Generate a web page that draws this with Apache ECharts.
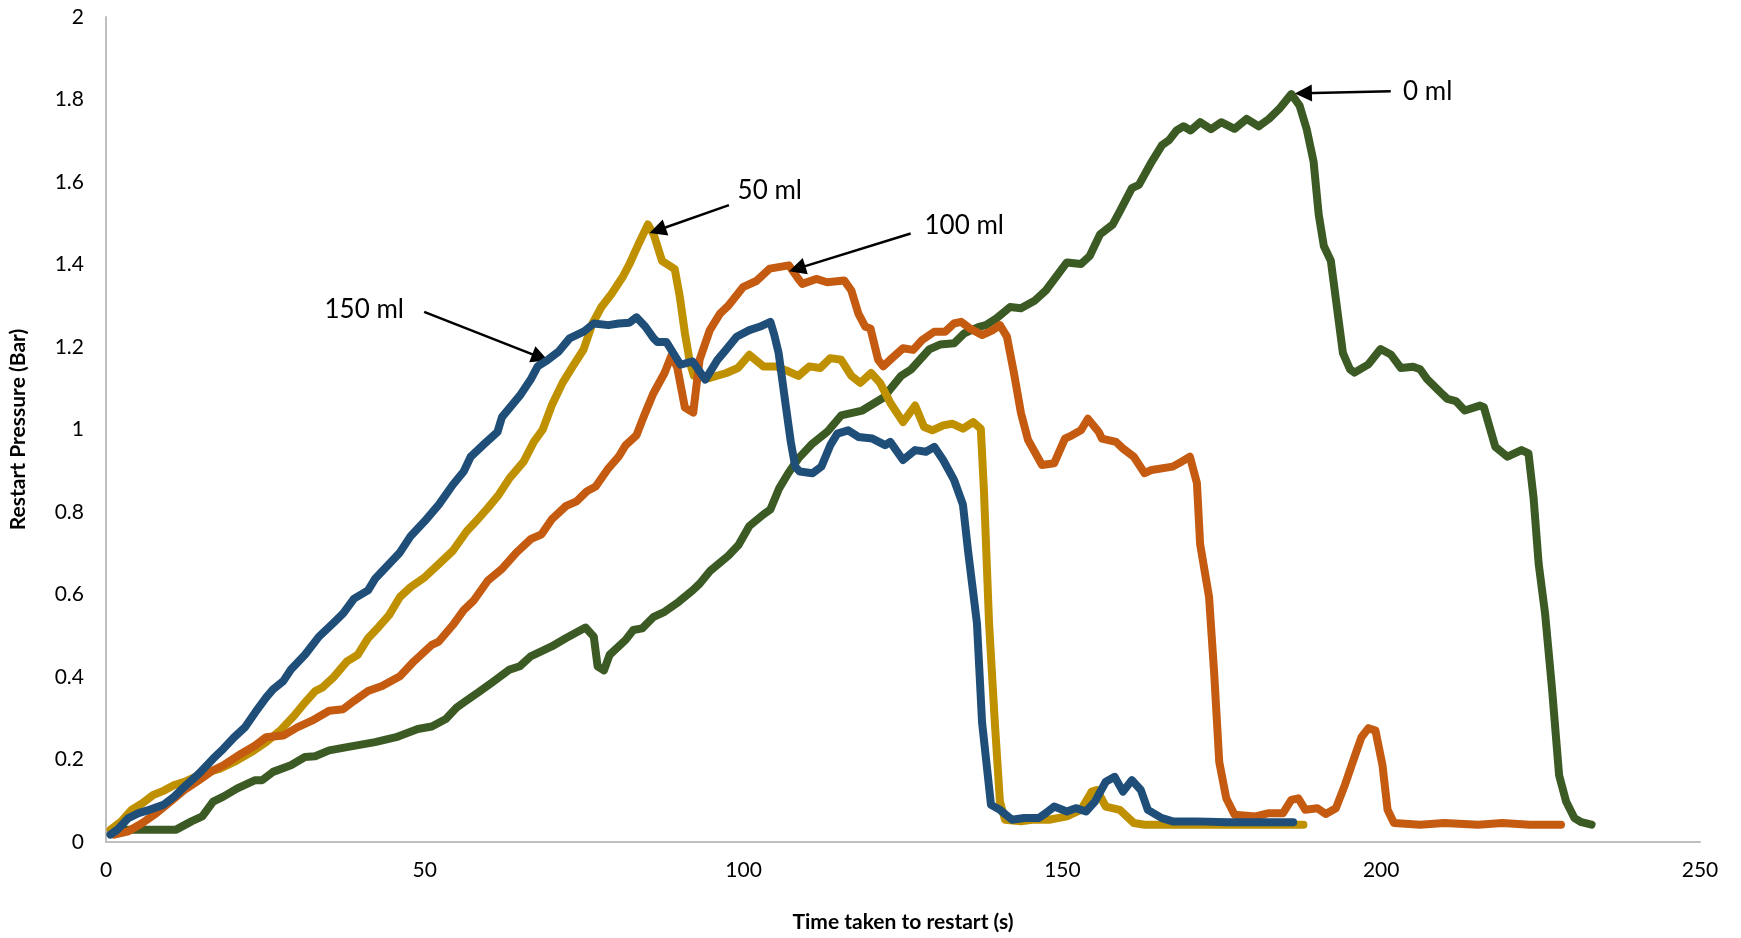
<!DOCTYPE html>
<html>
<head>
<meta charset="utf-8">
<script src="https://cdn.jsdelivr.net/npm/echarts@6/dist/echarts.min.js"></script>
<style>
html,body{margin:0;padding:0;background:#fff;overflow:hidden;}
#chart{width:1741px;height:938px;}
</style>
</head>
<body>
<div id="chart"></div>
<script>
// ---- Data (time s, restart pressure bar) ----
var ml0 = [[1,0.025],[2,0.03],[4,0.03],[7,0.03],[11,0.03],[13.4,0.05],[15.1,0.062],[16.8,0.098],[18.4,0.11],[20.6,0.13],[23.4,0.15],[24.5,0.15],[26.2,0.17],[29,0.186],[31.2,0.206],[32.8,0.208],[35,0.222],[37.8,0.23],[42.2,0.242],[45.5,0.254],[48.9,0.274],[51.1,0.28],[53.3,0.298],[55,0.326],[56.1,0.338],[58.3,0.362],[60.5,0.386],[63.3,0.418],[64.9,0.426],[66.6,0.45],[69.9,0.474],[72.1,0.494],[75.2,0.52],[76.5,0.498],[77.1,0.426],[78.1,0.416],[79,0.454],[81.5,0.49],[82.7,0.514],[84.1,0.518],[85.9,0.546],[87.6,0.558],[89.8,0.582],[92,0.61],[93.1,0.626],[94.8,0.658],[97.6,0.694],[99.2,0.72],[100.9,0.766],[103.1,0.794],[104.2,0.806],[105.6,0.858],[107,0.894],[108.6,0.93],[110.8,0.966],[113.1,0.994],[115.3,1.034],[118.6,1.046],[121.9,1.077],[124.7,1.13],[126.3,1.146],[129.1,1.194],[130.8,1.206],[133,1.209],[134.6,1.233],[136.9,1.249],[138,1.253],[139.6,1.269],[141.8,1.297],[143.5,1.294],[145.7,1.313],[147.4,1.337],[150.7,1.405],[152.9,1.401],[154.3,1.421],[155.9,1.473],[157.9,1.497],[159,1.529],[160.9,1.585],[162,1.593],[164,1.649],[165.6,1.689],[166.7,1.701],[167.9,1.725],[169,1.735],[170.1,1.725],[171.6,1.745],[173.3,1.728],[174.9,1.745],[177,1.729],[178.9,1.753],[180.8,1.735],[182.4,1.753],[184,1.777],[185.9,1.813],[187.2,1.785],[188.3,1.729],[189.4,1.649],[190.2,1.521],[191,1.445],[192.1,1.409],[194,1.185],[195.1,1.146],[195.8,1.138],[198,1.158],[199.9,1.195],[201.5,1.182],[203.1,1.149],[205,1.152],[206.1,1.146],[207.2,1.122],[209.3,1.09],[210.4,1.074],[211.7,1.069],[213.1,1.046],[215.5,1.058],[216.1,1.054],[217.9,0.958],[219.8,0.934],[222,0.95],[223.1,0.942],[223.9,0.834],[224.7,0.674],[225.7,0.554],[226.8,0.37],[227.9,0.162],[229,0.098],[230.3,0.058],[231.4,0.048],[233,0.042]];

var ml50 = [[0.7,0.03],[2.4,0.05],[4,0.078],[5.7,0.094],[7.4,0.114],[9,0.124],[10.7,0.138],[12.3,0.146],[14,0.158],[15.7,0.168],[17.9,0.178],[20.1,0.194],[22.8,0.218],[25.1,0.242],[27.3,0.27],[29.5,0.306],[31.2,0.338],[32.8,0.366],[33.9,0.374],[35.6,0.398],[37.8,0.438],[39.5,0.454],[41.1,0.494],[42.8,0.522],[44.4,0.55],[46.1,0.594],[47.8,0.618],[50,0.642],[52.2,0.674],[54.4,0.706],[56.6,0.754],[58.3,0.782],[59.9,0.81],[61.6,0.842],[63.3,0.882],[65.5,0.922],[67.1,0.97],[68.5,1.0],[69.9,1.058],[71.6,1.113],[73.2,1.153],[74.9,1.194],[76.3,1.257],[77.7,1.297],[79.3,1.329],[81,1.369],[82.1,1.401],[83.5,1.449],[85,1.497],[85.9,1.473],[87.2,1.409],[89.2,1.389],[90,1.321],[90.8,1.233],[91.6,1.161],[92.2,1.13],[94.7,1.125],[97.3,1.137],[99.1,1.149],[100.9,1.181],[103.1,1.153],[105,1.153],[107,1.141],[108.6,1.13],[110.3,1.153],[112,1.149],[113.6,1.173],[115.3,1.169],[116.9,1.13],[118.3,1.113],[120,1.137],[121.4,1.113],[123,1.065],[125,1.018],[126.9,1.058],[128.3,1.006],[129.6,0.998],[131.3,1.01],[132.7,1.014],[134.4,1.002],[136,1.018],[137.2,1.002],[137.7,0.85],[138.5,0.53],[139.4,0.29],[140.2,0.098],[141,0.054],[143.5,0.05],[145.2,0.054],[147.9,0.054],[150.7,0.062],[152.9,0.078],[154.6,0.122],[155.4,0.126],[156.8,0.086],[159,0.078],[161.2,0.046],[162.9,0.042],[167.3,0.042],[171,0.042],[175,0.042],[180,0.042],[184,0.042],[187.8,0.042]];

var ml100 = [[1.3,0.018],[3.5,0.026],[5.7,0.046],[7.9,0.07],[10.1,0.098],[12.3,0.126],[14.6,0.15],[16.8,0.174],[18.4,0.186],[21.2,0.214],[23.4,0.234],[25.1,0.254],[27.8,0.258],[30,0.278],[32.3,0.294],[35,0.318],[37.2,0.322],[38.9,0.342],[41.1,0.366],[43.3,0.378],[46.1,0.402],[48.3,0.438],[51.1,0.478],[52.2,0.486],[54.4,0.526],[56.1,0.562],[57.7,0.586],[59.9,0.634],[62.1,0.662],[64.4,0.702],[66.6,0.734],[68.3,0.746],[69.9,0.782],[72.1,0.814],[73.8,0.826],[75.4,0.85],[76.8,0.862],[78.8,0.906],[80.4,0.934],[81.5,0.962],[83.2,0.986],[84.3,1.03],[85.8,1.086],[87.6,1.137],[88.7,1.18],[89.6,1.15],[90.8,1.053],[92.1,1.041],[93.1,1.169],[94.7,1.241],[96.3,1.281],[97.6,1.3],[99.9,1.345],[102,1.36],[104.1,1.39],[107.1,1.398],[108.6,1.365],[109.2,1.353],[111.4,1.365],[113.1,1.357],[115.8,1.361],[116.9,1.337],[118,1.281],[119.1,1.249],[119.9,1.245],[121.1,1.169],[121.9,1.153],[123,1.169],[125,1.197],[126.6,1.193],[128,1.217],[129.9,1.237],[131.6,1.237],[133,1.257],[134.1,1.261],[135.5,1.245],[137.4,1.229],[139.1,1.241],[140.2,1.253],[141.3,1.225],[142.4,1.137],[143.5,1.04],[144.6,0.975],[146.8,0.914],[148.7,0.918],[150.4,0.978],[151.5,0.986],[152.9,0.998],[154,1.026],[155.7,0.994],[156.2,0.978],[158.4,0.97],[159.5,0.954],[161.2,0.934],[162.9,0.894],[164,0.902],[167.3,0.91],[168.7,0.922],[170,0.934],[171.1,0.87],[171.6,0.722],[173,0.594],[173.8,0.41],[174.6,0.194],[175.7,0.106],[177,0.066],[180.3,0.062],[182.4,0.07],[184.6,0.07],[185.9,0.102],[187,0.106],[188.1,0.078],[190,0.082],[191.3,0.068],[192.9,0.082],[194.3,0.138],[195.9,0.21],[196.9,0.254],[198,0.276],[199.1,0.27],[200.2,0.186],[201,0.078],[202,0.046],[206.1,0.042],[209.9,0.046],[215.2,0.042],[219,0.046],[223.3,0.042],[228.2,0.042]];

var ml150 = [[0.7,0.018],[1.8,0.03],[3.5,0.058],[5.1,0.07],[6.8,0.078],[9,0.09],[10.7,0.11],[12.3,0.134],[14.6,0.166],[16.8,0.202],[18.4,0.226],[20.1,0.254],[21.8,0.278],[23.4,0.314],[25.1,0.35],[26.2,0.37],[27.8,0.39],[29,0.418],[31.2,0.454],[33.4,0.498],[35.6,0.53],[37.2,0.554],[38.9,0.59],[41.1,0.61],[42.2,0.638],[44.4,0.674],[46.1,0.702],[47.8,0.742],[50,0.778],[52.2,0.818],[54.4,0.866],[56.1,0.898],[57.2,0.934],[59.4,0.966],[61.4,0.994],[62.1,1.03],[64.9,1.082],[66.6,1.121],[67.7,1.153],[69.3,1.169],[71,1.189],[72.7,1.221],[74.9,1.237],[76.5,1.257],[78.8,1.253],[80.4,1.257],[82.1,1.259],[83.2,1.272],[84.6,1.249],[85.9,1.221],[86.5,1.212],[87.9,1.212],[89.3,1.177],[90.1,1.157],[92,1.165],[94,1.121],[95.9,1.169],[97,1.189],[98.9,1.225],[100.9,1.241],[102.5,1.249],[104.2,1.261],[104.8,1.23],[105.5,1.185],[106.4,1.082],[107.4,0.97],[108.1,0.91],[108.8,0.898],[110.8,0.894],[112.2,0.91],[113.6,0.962],[114.7,0.99],[116.4,0.998],[118,0.982],[120.2,0.978],[122.2,0.962],[123,0.97],[125,0.926],[126.9,0.95],[128.6,0.946],[129.9,0.958],[131.3,0.926],[133,0.878],[134.4,0.818],[135.2,0.706],[136.6,0.53],[137.4,0.29],[138.8,0.09],[140.2,0.078],[142.1,0.054],[144,0.058],[146.3,0.058],[147.4,0.07],[148.7,0.086],[150.7,0.074],[152.1,0.082],[153.7,0.074],[155.1,0.098],[156.8,0.146],[158.2,0.158],[159.5,0.122],[160.9,0.15],[162.3,0.126],[163.4,0.078],[165.6,0.058],[167.3,0.05],[171,0.05],[176,0.048],[181,0.048],[186.2,0.048]];

// annotation labels: text position, arrow start and end (data units)
var labelNames = ['0 ml', '50 ml', '100 ml', '150 ml'];
var labelPos = [[207.3, 1.818], [104.1, 1.578], [134.6, 1.494], [40.5, 1.290]];
var arrowFrom = [[201.5, 1.820], [97.7, 1.544], [126.2, 1.475], [49.9, 1.285]];
var arrowTo = [[187.8, 1.815], [86.5, 1.483], [108.4, 1.390], [68.1, 1.175]];

var xTicks = {min: 0, max: 250, step: 50};
var yTicks = {min: 0, max: 2, step: 0.2};

var colors = ['#3B5A24', '#BF9000', '#C55A11', '#1F4E79'];
var seriesData = [ml0, ml50, ml100, ml150];
var FONT = 'Lato';

var chart = echarts.init(document.getElementById('chart'), null, {renderer: 'canvas'});

var series = seriesData.map(function (d, i) {
  return {
    type: 'line',
    data: d,
    showSymbol: false,
    symbol: 'none',
    smooth: false,
    clip: false,
    z: 2 + i,
    lineStyle: {color: colors[i], width: 8, cap: 'round', join: 'round'},
    itemStyle: {color: colors[i]},
    emphasis: {disabled: true},
    animation: false,
    markLine: {
      silent: true,
      animation: false,
      symbol: ['none', 'triangle'],
      symbolSize: 17,
      label: {show: false},
      lineStyle: {color: '#000', width: 2.5, type: 'solid'},
      emphasis: {disabled: true},
      data: [[{coord: arrowFrom[i]}, {coord: arrowTo[i]}]]
    },
    markPoint: {
      silent: true,
      animation: false,
      symbol: 'rect',
      symbolSize: 1,
      itemStyle: {color: 'rgba(0,0,0,0)'},
      label: {show: true, position: 'inside', color: '#000', fontSize: 26, fontFamily: FONT,
        formatter: function () { return labelNames[i]; }},
      data: [{coord: labelPos[i], value: labelNames[i]}]
    }
  };
});

chart.setOption({
  backgroundColor: '#fff',
  animation: false,
  textStyle: {fontFamily: FONT},
  grid: {left: 101, right: 41, top: 17, bottom: 87, containLabel: false},
  xAxis: {
    type: 'value',
    min: xTicks.min, max: xTicks.max, interval: xTicks.step,
    name: 'Time taken to restart (s)',
    nameLocation: 'middle', nameGap: 70,
    nameTextStyle: {fontSize: 21, fontWeight: 'bold', color: '#000', fontFamily: FONT},
    axisLine: {show: true, lineStyle: {color: '#bfbfbf', width: 2}},
    axisTick: {show: false},
    splitLine: {show: false},
    axisLabel: {fontSize: 21, color: '#000', margin: 18, fontFamily: FONT}
  },
  yAxis: {
    type: 'value',
    min: yTicks.min, max: yTicks.max, interval: yTicks.step,
    name: 'Restart Pressure (Bar)',
    nameLocation: 'middle', nameGap: 77, nameRotate: 90,
    nameTextStyle: {fontSize: 21, fontWeight: 'bold', color: '#000', fontFamily: FONT},
    axisLine: {show: true, lineStyle: {color: '#bfbfbf', width: 2}},
    axisTick: {show: false},
    splitLine: {show: false},
    axisLabel: {fontSize: 21, color: '#000', margin: 22, fontFamily: FONT,
      formatter: function (v) { return String(+v.toFixed(1)); }}
  },
  series: series
});
</script>
</body>
</html>
